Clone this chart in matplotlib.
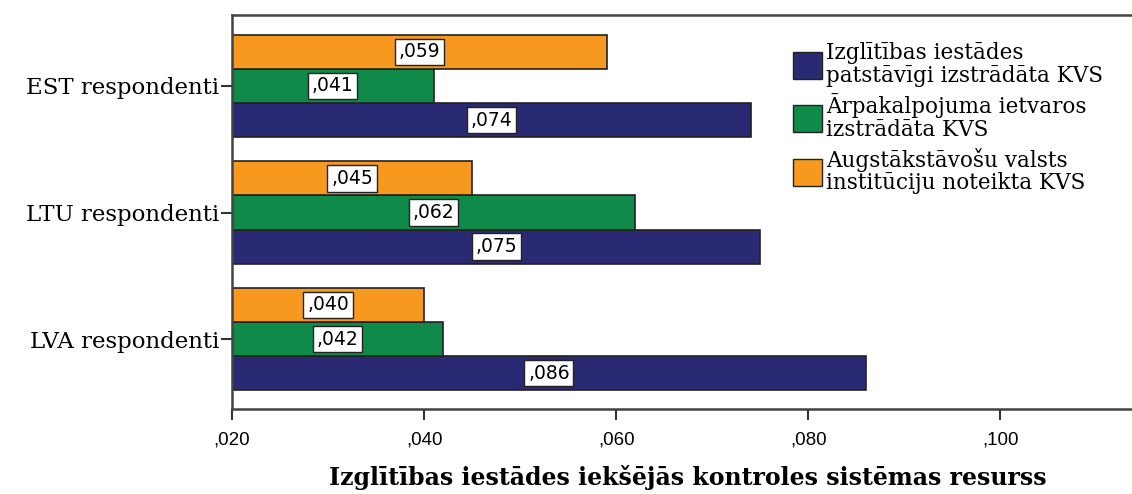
import matplotlib
matplotlib.use("Agg")
import matplotlib.pyplot as plt
import numpy as np
from matplotlib.patches import Patch

groups = ["EST respondenti", "LTU respondenti", "LVA respondenti"]
series = [
    "Izglītības iestādes\npatstāvīgi izstrādāta KVS",
    "Ārpakalpojuma ietvaros\nizstrādāta KVS",
    "Augstākstāvošu valsts\ninstitūciju noteikta KVS",
]
vals_own = [0.074, 0.075, 0.086]
vals_outsourced = [0.041, 0.062, 0.042]
vals_state = [0.059, 0.045, 0.040]
xticks = [0.02, 0.04, 0.06, 0.08, 0.10]

colors = ["#2a2a74", "#0f8a48", "#f7991f"]
base = 0.02

fig = plt.figure(figsize=(11.32, 4.94), dpi=100)
ax = fig.add_axes([232 / 1132, 1 - 409 / 494, 1 - 232 / 1132 + 0.01, (409 - 15) / 494])

ypos = np.array([2, 1, 0])
h = 0.27
for k, (vals, col) in enumerate(zip([vals_own, vals_outsourced, vals_state], colors)):
    y = ypos + (k - 1) * h
    vals = np.array(vals)
    ax.barh(y, vals - base, left=base, height=h, color=col, edgecolor="#222222", linewidth=1.2)
    for yy, v in zip(y, vals):
        ax.text((base + v) / 2, yy, (",%03d" % round(v * 1000)), ha="center", va="center",
                fontsize=13.5, family="DejaVu Sans",
                bbox=dict(boxstyle="square,pad=0.2", fc="white", ec="#222222", lw=1))

ax.set_xlim(base, base + (1132 + 11 - 232) / 192 * 0.02)
ax.set_ylim(-0.553, 2.561)
ax.set_xticks(xticks)
ax.set_xticklabels([(",%03d" % round(t * 1000)) for t in xticks], family="Liberation Sans", fontsize=13.5)
ax.set_yticks(ypos)
ax.set_yticklabels(groups, family="DejaVu Serif", fontsize=16.5)
ax.tick_params(axis="both", width=1.5, color="#333333")
ax.tick_params(axis="x", length=8, pad=8)
ax.tick_params(axis="y", length=8, pad=1)
for s in ["left", "top", "bottom"]:
    ax.spines[s].set_linewidth(1.8)
    ax.spines[s].set_color("#444444")
ax.spines["right"].set_visible(False)

ax.set_xlabel("Izglītības iestādes iekšējās kontroles sistēmas resurss", family="DejaVu Serif",
              fontweight="bold", fontsize=17, labelpad=12)

handles = [Patch(facecolor=c, edgecolor="#222222", label=s) for c, s in zip(colors, series)]
leg = ax.legend(handles=handles, loc="upper left", bbox_to_anchor=(793 / 1132, 1 - 42 / 494),
                bbox_transform=fig.transFigure, frameon=False,
                prop={"family": "DejaVu Serif", "size": 15.5},
                handlelength=1.35, handleheight=1.55, handletextpad=0.2, labelspacing=0.3,
                borderpad=0, borderaxespad=0)
for t in leg.get_texts():
    t.set_linespacing(1.05)

fig.savefig("out.png", dpi=100)
